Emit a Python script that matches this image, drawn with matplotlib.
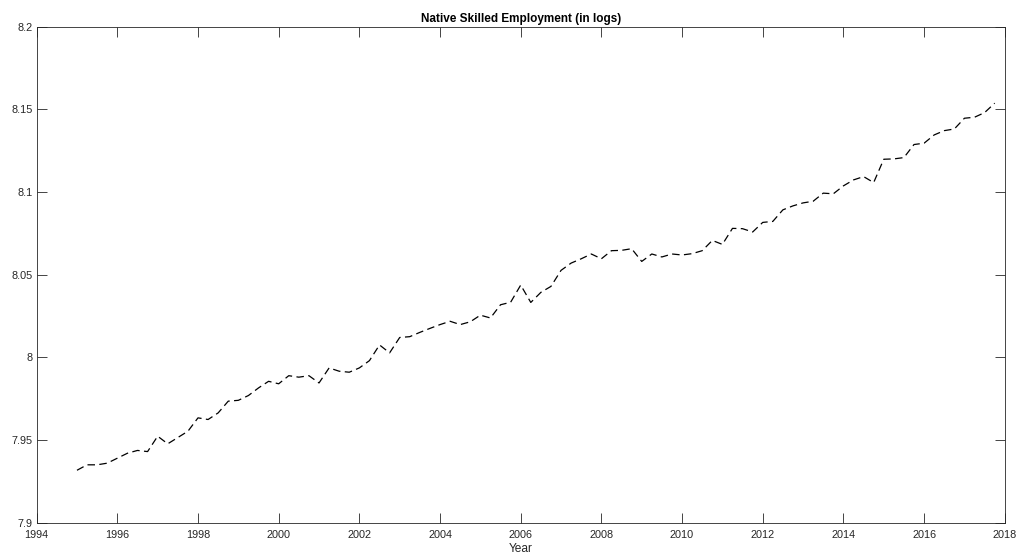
import numpy as np
import matplotlib.pyplot as plt

plt.rcParams['font.family'] = ['Liberation Sans', 'DejaVu Sans']

# quarterly observations, 1995Q1 - 2017Q4
start_year = 1995
emp_log = [
    7.9317, 7.9350, 7.9350, 7.9360,   # 1995
    7.9390, 7.9420, 7.9437, 7.9430,   # 1996
    7.9523, 7.9477, 7.9515, 7.9553,   # 1997
    7.9634, 7.9624, 7.9664, 7.9735,   # 1998
    7.9740, 7.9769, 7.9815, 7.9855,   # 1999
    7.9840, 7.9889, 7.9880, 7.9889,   # 2000
    7.9845, 7.9936, 7.9916, 7.9910,   # 2001
    7.9936, 7.9980, 8.0075, 8.0027,   # 2002
    8.0120, 8.0125, 8.0151, 8.0175,   # 2003
    8.0198, 8.0218, 8.0198, 8.0215,   # 2004
    8.0255, 8.0238, 8.0318, 8.0333,   # 2005
    8.0437, 8.0332, 8.0393, 8.0429,   # 2006
    8.0526, 8.0570, 8.0596, 8.0625,   # 2007
    8.0596, 8.0645, 8.0647, 8.0657,   # 2008
    8.0580, 8.0625, 8.0607, 8.0625,   # 2009
    8.0619, 8.0627, 8.0645, 8.0707,   # 2010
    8.0683, 8.0780, 8.0778, 8.0758,   # 2011
    8.0816, 8.0822, 8.0892, 8.0916,   # 2012
    8.0934, 8.0944, 8.0993, 8.0989,   # 2013
    8.1037, 8.1073, 8.1093, 8.1057,   # 2014
    8.1198, 8.1200, 8.1208, 8.1287,   # 2015
    8.1295, 8.1345, 8.1371, 8.1381,   # 2016
    8.1446, 8.1452, 8.1480, 8.1537,   # 2017
]
years = start_year + np.arange(len(emp_log)) / 4.0

xticks = np.arange(1994, 2019, 2)
yticks = [7.9, 7.95, 8.0, 8.05, 8.1, 8.15, 8.2]
ytick_labels = ['7.9', '7.95', '8', '8.05', '8.1', '8.15', '8.2']

axcol = '#262626'

fig = plt.figure(figsize=(10.18, 5.57), dpi=100)
ax = fig.add_axes([0.036, 0.0616, 0.951, 0.8906])

ax.plot(years, emp_log, color='black', linewidth=0.9, linestyle=(0, (6, 3.5)))

ax.set_xlim(1994, 2018)
ax.set_ylim(7.9, 8.2)
ax.set_xticks(xticks)
ax.set_yticks(yticks)
ax.set_yticklabels(ytick_labels)

ax.tick_params(direction='in', length=7, width=0.6, colors=axcol,
               labelsize=7.8, top=True, right=True)
ax.tick_params(axis='x', pad=5.5)
ax.tick_params(axis='y', pad=3)
for sp in ax.spines.values():
    sp.set_color(axcol)
    sp.set_linewidth(0.6)

ax.set_xlabel('Year', fontsize=8.6, color=axcol, labelpad=2)
ax.set_title('Native Skilled Employment (in logs)', fontsize=8.5, fontweight='bold',
             color='black', pad=3)

fig.savefig('out.png', dpi=100)
